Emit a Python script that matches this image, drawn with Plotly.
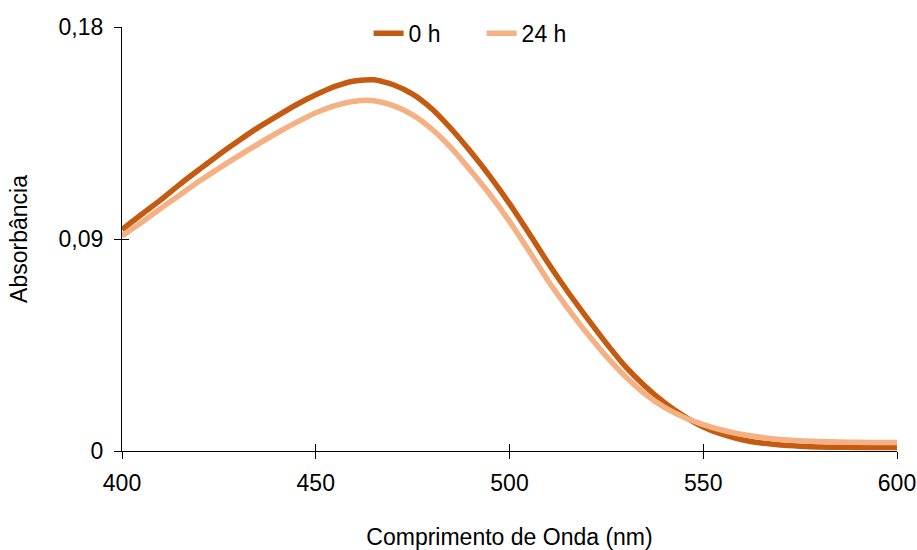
import plotly.graph_objects as go

# Absorption spectra (wavelength in nm, absorbance)
wavelength = [400, 405, 410, 415, 420, 425, 430, 435, 440, 445, 450, 455, 460,
              465, 470, 475, 480, 485, 490, 495, 500, 505, 510, 515, 520, 525, 530,
              535, 540, 545, 550, 555, 560, 565, 570, 575, 580, 585, 590, 595, 600]

abs_0h = [0.0940, 0.1004, 0.1066, 0.1133, 0.1196, 0.1258, 0.1316, 0.1372, 0.1422, 0.1470,
          0.1512, 0.1548, 0.1571, 0.1576, 0.1555, 0.1515, 0.1452, 0.1367, 0.1270,
          0.1165, 0.1050, 0.0925, 0.0797, 0.0677, 0.0565, 0.0457, 0.0357, 0.0275, 0.0205,
          0.0148, 0.0102, 0.0070, 0.0048, 0.0034, 0.0025, 0.0020, 0.0017, 0.0016, 0.0015,
          0.0015, 0.0015]

abs_24h = [0.0913, 0.0970, 0.1030, 0.1088, 0.1146, 0.1200, 0.1252, 0.1302, 0.1350, 0.1395,
           0.1436, 0.1466, 0.1485, 0.1487, 0.1466, 0.1427, 0.1366, 0.1286, 0.1190,
           0.1088, 0.0975, 0.0850, 0.0722, 0.0607, 0.0500, 0.0402, 0.0315, 0.0242, 0.0185,
           0.0143, 0.0112, 0.0088, 0.0070, 0.0058, 0.0049, 0.0043, 0.0040, 0.0038, 0.0037,
           0.0036, 0.0036]

series_names = ["0 h", "24 h"]
series_colors = ["#C55A11", "#F4B183"]

x_ticks = [400, 450, 500, 550, 600]
y_ticks = [0, 0.09, 0.18]
y_tick_labels = ["0", "0,09", "0,18"]

FONT = "Liberation Sans, Arial, sans-serif"
FS = 23

fig = go.Figure()
for name, ys, color in zip(series_names, [abs_0h, abs_24h], series_colors):
    fig.add_trace(go.Scatter(
        x=wavelength, y=ys, name=name, mode="lines",
        line=dict(color=color, width=5.5, shape="spline", smoothing=0.6),
    ))

# invisible trace on the overlay axes so the inner tick halves get drawn
fig.add_trace(go.Scatter(x=[400], y=[0], xaxis="x2", yaxis="y2", mode="markers",
                         marker=dict(opacity=0), showlegend=False, hoverinfo="skip"))

fig.update_layout(
    width=917, height=550,
    margin=dict(l=122, r=20, t=25, b=99),
    paper_bgcolor="white", plot_bgcolor="white",
    font=dict(family=FONT, size=FS, color="black"),
    showlegend=True,
    legend=dict(orientation="h", x=0.464, xanchor="center", y=0.985, yanchor="middle",
                font=dict(size=FS), bgcolor="rgba(0,0,0,0)", itemwidth=30,
                entrywidth=68, tracegroupgap=0),
    xaxis=dict(
        range=[400, 600], tickvals=x_ticks, ticks="outside", ticklen=7,
        tickcolor="black", tickwidth=1.3, showline=True, linecolor="black",
        linewidth=1.3, showgrid=False, zeroline=False, automargin=False,
        tickfont=dict(size=FS), ticklabelstandoff=4,
        title=dict(text="Comprimento de Onda (nm)", font=dict(size=FS), standoff=34),
    ),
    yaxis=dict(
        range=[0, 0.18], tickvals=y_ticks, ticktext=y_tick_labels, ticks="outside",
        ticklen=7, tickcolor="black", tickwidth=1.3, showline=True, linecolor="black",
        linewidth=1.3, showgrid=False, zeroline=False, automargin=False,
        tickfont=dict(size=FS), ticklabelstandoff=6,
        title=dict(text="Absorbância", font=dict(size=FS), standoff=24),
    ),
    xaxis2=dict(range=[400, 600], tickvals=x_ticks, ticks="inside", ticklen=7,
                tickcolor="black", tickwidth=1.3, showticklabels=False, showgrid=False,
                zeroline=False, overlaying="x", side="bottom"),
    yaxis2=dict(range=[0, 0.18], tickvals=y_ticks, ticks="inside", ticklen=7,
                tickcolor="black", tickwidth=1.3, showticklabels=False, showgrid=False,
                zeroline=False, overlaying="y", side="left"),
)

fig.write_html("out.html")
